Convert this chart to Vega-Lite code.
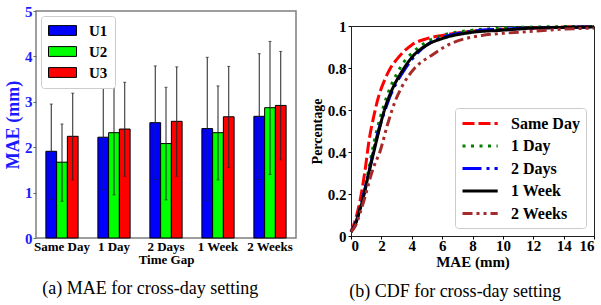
{
  "$schema": "https://vega.github.io/schema/vega-lite/v6.json",
  "background": "white",
  "padding": {"left": 3, "top": 3, "right": 0, "bottom": 0},
  "spacing": 12,
  "resolve": {"scale": {"color": "independent", "strokeDash": "independent", "x": "independent", "y": "independent"}, "legend": {"color": "independent", "strokeDash": "independent"}},
  "config": {
    "font": "Liberation Serif",
    "axis": {"grid": false, "domain": false, "ticks": true, "tickSize": 3, "labelFont": "Liberation Serif", "titleFont": "Liberation Serif", "labelFontWeight": "bold", "titleFontWeight": "bold", "labelColor": "black", "titleColor": "black"},
    "legend": {"labelFont": "Liberation Serif", "labelFontWeight": "bold"},
    "title": {"font": "Liberation Serif", "fontWeight": "normal", "fontSize": 18, "color": "black"}
  },
  "hconcat": [
    {
      "width": 260,
      "height": 227,
      "view": {"stroke": "#7f7f7f", "strokeWidth": 1.5},
      "title": {"text": "(a)  MAE for cross-day setting", "orient": "bottom", "frame": "bounds", "offset": 14},
      "data": {"values": [
        {"gap": "Same Day", "user": "U1", "mae": 1.91, "lo": 0.85, "hi": 2.95},
        {"gap": "Same Day", "user": "U2", "mae": 1.67, "lo": 0.81, "hi": 2.51},
        {"gap": "Same Day", "user": "U3", "mae": 2.24, "lo": 1.28, "hi": 3.19},
        {"gap": "1 Day", "user": "U1", "mae": 2.22, "lo": 1.06, "hi": 3.37},
        {"gap": "1 Day", "user": "U2", "mae": 2.32, "lo": 0.95, "hi": 3.70},
        {"gap": "1 Day", "user": "U3", "mae": 2.40, "lo": 1.36, "hi": 3.43},
        {"gap": "2 Days", "user": "U1", "mae": 2.54, "lo": 1.29, "hi": 3.79},
        {"gap": "2 Days", "user": "U2", "mae": 2.08, "lo": 0.84, "hi": 3.32},
        {"gap": "2 Days", "user": "U3", "mae": 2.57, "lo": 1.36, "hi": 3.77},
        {"gap": "1 Week", "user": "U1", "mae": 2.41, "lo": 0.83, "hi": 3.98},
        {"gap": "1 Week", "user": "U2", "mae": 2.32, "lo": 1.28, "hi": 3.35},
        {"gap": "1 Week", "user": "U3", "mae": 2.67, "lo": 1.55, "hi": 3.78},
        {"gap": "2 Weeks", "user": "U1", "mae": 2.68, "lo": 1.29, "hi": 4.06},
        {"gap": "2 Weeks", "user": "U2", "mae": 2.87, "lo": 1.40, "hi": 4.33},
        {"gap": "2 Weeks", "user": "U3", "mae": 2.92, "lo": 1.72, "hi": 4.11}
      ]},
      "encoding": {
        "x": {"field": "gap", "type": "nominal", "sort": ["Same Day", "1 Day", "2 Days", "1 Week", "2 Weeks"],
          "scale": {"paddingInner": 0.38, "paddingOuter": 0.19},
          "axis": {"labelAngle": 0, "ticks": false, "labelFontSize": 13, "labelPadding": 2, "title": "Time Gap", "titleFontSize": 13, "titlePadding": 0}},
        "xOffset": {"field": "user", "type": "nominal", "sort": ["U1", "U2", "U3"]}
      },
      "layer": [
        {
          "mark": {"type": "bar", "stroke": "black", "strokeWidth": 1},
          "encoding": {
            "y": {"field": "mae", "type": "quantitative", "scale": {"domain": [0, 5], "nice": false},
              "axis": {"values": [0, 1, 2, 3, 4, 5], "title": "MAE (mm)", "labelColor": "#1a1aff", "titleColor": "#1a1aff", "tickColor": "#666666", "labelFontSize": 15, "titleFontSize": 18, "labelPadding": 1, "titlePadding": 2}},
            "color": {"field": "user", "type": "nominal", "scale": {"domain": ["U1", "U2", "U3"], "range": ["#0000ff", "#00ff00", "#ff0000"]},
              "legend": {"title": null, "orient": "top-left", "offset": 5, "symbolType": "M-1,-0.7H3V0.7H-1Z", "symbolSize": 196, "symbolStrokeColor": "black", "symbolStrokeWidth": 1, "labelFontSize": 15, "labelOffset": 26, "rowPadding": 5, "padding": 7, "strokeColor": "#cccccc", "fillColor": "white", "cornerRadius": 3}}
          }
        },
        {
          "mark": {"type": "rule", "color": "#222222", "strokeWidth": 1},
          "encoding": {"y": {"field": "lo", "type": "quantitative"}, "y2": {"field": "hi"}}
        },
        {
          "mark": {"type": "tick", "color": "#222222", "thickness": 1, "size": 3},
          "encoding": {"y": {"field": "hi", "type": "quantitative"}}
        },
        {
          "mark": {"type": "tick", "color": "#222222", "thickness": 1, "size": 3},
          "encoding": {"y": {"field": "lo", "type": "quantitative"}}
        }
      ]
    },
    {
      "spacing": 6,
      "resolve": {"legend": {"color": "independent", "strokeDash": "independent"}},
      "vconcat": [
        {
          "width": 243,
          "height": 1,
          "view": {"stroke": null},
          "data": {"values": []},
          "mark": "point",
          "encoding": {}
        },
        {
          "width": 243,
          "height": 210,
          "view": {"stroke": "#222222", "strokeWidth": 1},
          "title": {"text": "(b)  CDF for cross-day setting", "orient": "bottom", "frame": "bounds", "offset": 14},
          "data": {"values": [
            {"series": "Same Day", "mae": 0, "p": 0.02},
            {"series": "Same Day", "mae": 0.3, "p": 0.08},
            {"series": "Same Day", "mae": 0.6, "p": 0.17},
            {"series": "Same Day", "mae": 0.9, "p": 0.30},
            {"series": "Same Day", "mae": 1.2, "p": 0.46},
            {"series": "Same Day", "mae": 1.5, "p": 0.57},
            {"series": "Same Day", "mae": 1.8, "p": 0.66},
            {"series": "Same Day", "mae": 2.2, "p": 0.74},
            {"series": "Same Day", "mae": 2.6, "p": 0.80},
            {"series": "Same Day", "mae": 3.0, "p": 0.84},
            {"series": "Same Day", "mae": 3.5, "p": 0.88},
            {"series": "Same Day", "mae": 4.0, "p": 0.91},
            {"series": "Same Day", "mae": 5.0, "p": 0.94},
            {"series": "Same Day", "mae": 6.0, "p": 0.955},
            {"series": "Same Day", "mae": 8.0, "p": 0.975},
            {"series": "Same Day", "mae": 10.0, "p": 0.985},
            {"series": "Same Day", "mae": 12.0, "p": 0.99},
            {"series": "Same Day", "mae": 14.0, "p": 0.995},
            {"series": "Same Day", "mae": 16.0, "p": 0.997},
            {"series": "1 Day", "mae": 0, "p": 0.02},
            {"series": "1 Day", "mae": 0.3, "p": 0.06},
            {"series": "1 Day", "mae": 0.6, "p": 0.13},
            {"series": "1 Day", "mae": 0.9, "p": 0.22},
            {"series": "1 Day", "mae": 1.2, "p": 0.33},
            {"series": "1 Day", "mae": 1.5, "p": 0.44},
            {"series": "1 Day", "mae": 1.8, "p": 0.53},
            {"series": "1 Day", "mae": 2.2, "p": 0.63},
            {"series": "1 Day", "mae": 2.6, "p": 0.71},
            {"series": "1 Day", "mae": 3.0, "p": 0.77},
            {"series": "1 Day", "mae": 3.5, "p": 0.83},
            {"series": "1 Day", "mae": 4.0, "p": 0.87},
            {"series": "1 Day", "mae": 5.0, "p": 0.925},
            {"series": "1 Day", "mae": 6.0, "p": 0.955},
            {"series": "1 Day", "mae": 8.0, "p": 0.98},
            {"series": "1 Day", "mae": 10.0, "p": 0.99},
            {"series": "1 Day", "mae": 12.0, "p": 0.995},
            {"series": "1 Day", "mae": 16.0, "p": 0.998},
            {"series": "2 Days", "mae": 0, "p": 0.02},
            {"series": "2 Days", "mae": 0.3, "p": 0.06},
            {"series": "2 Days", "mae": 0.6, "p": 0.13},
            {"series": "2 Days", "mae": 0.9, "p": 0.22},
            {"series": "2 Days", "mae": 1.2, "p": 0.31},
            {"series": "2 Days", "mae": 1.5, "p": 0.41},
            {"series": "2 Days", "mae": 1.8, "p": 0.50},
            {"series": "2 Days", "mae": 2.2, "p": 0.59},
            {"series": "2 Days", "mae": 2.6, "p": 0.67},
            {"series": "2 Days", "mae": 3.0, "p": 0.73},
            {"series": "2 Days", "mae": 3.5, "p": 0.79},
            {"series": "2 Days", "mae": 4.0, "p": 0.84},
            {"series": "2 Days", "mae": 5.0, "p": 0.91},
            {"series": "2 Days", "mae": 6.0, "p": 0.945},
            {"series": "2 Days", "mae": 8.0, "p": 0.975},
            {"series": "2 Days", "mae": 10.0, "p": 0.985},
            {"series": "2 Days", "mae": 12.0, "p": 0.99},
            {"series": "2 Days", "mae": 16.0, "p": 0.995},
            {"series": "1 Week", "mae": 0, "p": 0.02},
            {"series": "1 Week", "mae": 0.3, "p": 0.06},
            {"series": "1 Week", "mae": 0.6, "p": 0.13},
            {"series": "1 Week", "mae": 0.9, "p": 0.21},
            {"series": "1 Week", "mae": 1.2, "p": 0.31},
            {"series": "1 Week", "mae": 1.5, "p": 0.40},
            {"series": "1 Week", "mae": 1.8, "p": 0.49},
            {"series": "1 Week", "mae": 2.2, "p": 0.60},
            {"series": "1 Week", "mae": 2.6, "p": 0.68},
            {"series": "1 Week", "mae": 3.0, "p": 0.74},
            {"series": "1 Week", "mae": 3.5, "p": 0.80},
            {"series": "1 Week", "mae": 4.0, "p": 0.85},
            {"series": "1 Week", "mae": 5.0, "p": 0.91},
            {"series": "1 Week", "mae": 6.0, "p": 0.94},
            {"series": "1 Week", "mae": 8.0, "p": 0.97},
            {"series": "1 Week", "mae": 10.0, "p": 0.98},
            {"series": "1 Week", "mae": 12.0, "p": 0.99},
            {"series": "1 Week", "mae": 16.0, "p": 0.995},
            {"series": "2 Weeks", "mae": 0, "p": 0.02},
            {"series": "2 Weeks", "mae": 0.3, "p": 0.05},
            {"series": "2 Weeks", "mae": 0.6, "p": 0.11},
            {"series": "2 Weeks", "mae": 0.9, "p": 0.18},
            {"series": "2 Weeks", "mae": 1.2, "p": 0.26},
            {"series": "2 Weeks", "mae": 1.5, "p": 0.33},
            {"series": "2 Weeks", "mae": 1.9, "p": 0.40},
            {"series": "2 Weeks", "mae": 2.4, "p": 0.53},
            {"series": "2 Weeks", "mae": 2.9, "p": 0.64},
            {"series": "2 Weeks", "mae": 3.5, "p": 0.73},
            {"series": "2 Weeks", "mae": 4.2, "p": 0.80},
            {"series": "2 Weeks", "mae": 5.3, "p": 0.86},
            {"series": "2 Weeks", "mae": 6.4, "p": 0.91},
            {"series": "2 Weeks", "mae": 8.6, "p": 0.955},
            {"series": "2 Weeks", "mae": 10.0, "p": 0.965},
            {"series": "2 Weeks", "mae": 12.0, "p": 0.975},
            {"series": "2 Weeks", "mae": 14.0, "p": 0.985},
            {"series": "2 Weeks", "mae": 16.0, "p": 0.99}
          ]},
          "mark": {"type": "line", "strokeWidth": 3, "interpolate": "monotone"},
          "encoding": {
            "x": {"field": "mae", "type": "quantitative", "scale": {"domain": [0, 16], "nice": false},
              "axis": {"values": [0, 2, 4, 6, 8, 10, 12, 14, 16], "title": "MAE (mm)", "tickColor": "black", "labelFontSize": 15, "titleFontSize": 15, "labelPadding": -1, "titlePadding": 1}},
            "y": {"field": "p", "type": "quantitative", "scale": {"domain": [0, 1], "nice": false},
              "axis": {"values": [0, 0.2, 0.4, 0.6, 0.8, 1], "format": "~g", "title": "Percentage", "tickColor": "black", "labelFontSize": 15, "titleFontSize": 14, "labelPadding": 2, "titlePadding": 3}},
            "color": {"field": "series", "type": "nominal", "sort": ["Same Day", "1 Day", "2 Days", "1 Week", "2 Weeks"],
              "scale": {"domain": ["Same Day", "1 Day", "2 Days", "1 Week", "2 Weeks"], "range": ["#ff0000", "#008000", "#0000ff", "#000000", "#a52a2a"]},
              "legend": {"title": null, "orient": "bottom-right", "offset": 8, "symbolType": "M-1,0H3.4", "symbolSize": 256, "symbolStrokeWidth": 3, "labelFontSize": 16, "labelOffset": 31, "rowPadding": 4.5, "padding": 6, "strokeColor": "#cccccc", "fillColor": "white", "cornerRadius": 3}},
            "strokeDash": {"field": "series", "type": "nominal", "sort": ["Same Day", "1 Day", "2 Days", "1 Week", "2 Weeks"],
              "scale": {"domain": ["Same Day", "1 Day", "2 Days", "1 Week", "2 Weeks"], "range": [[12, 4], [3, 5.5], [19, 5, 3, 5], [1, 0], [10, 4, 3, 4, 3, 4]]},
              "legend": {"title": null, "orient": "bottom-right", "offset": 8, "symbolType": "M-1,0H3.4", "symbolSize": 256, "symbolStrokeWidth": 3, "labelFontSize": 16, "labelOffset": 31, "rowPadding": 4.5, "padding": 6, "strokeColor": "#cccccc", "fillColor": "white", "cornerRadius": 3}}
          }
        }
      ]
    }
  ]
}
